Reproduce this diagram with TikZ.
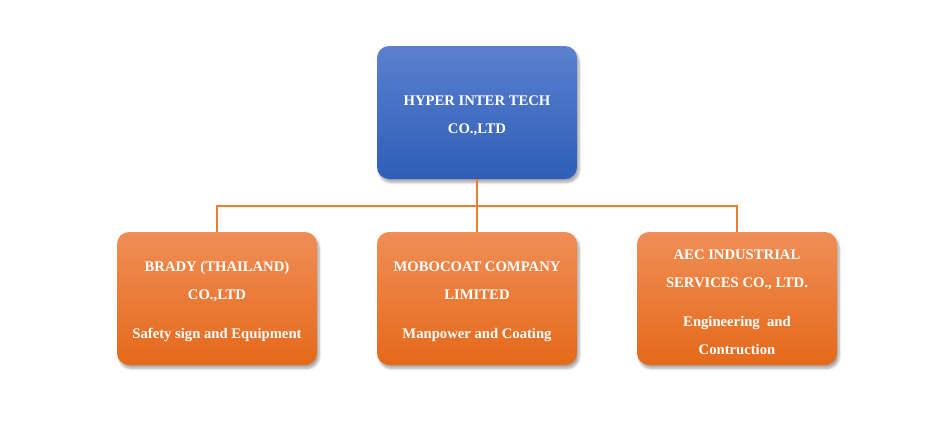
\documentclass[tikz,border=0pt]{standalone}
\usepackage{fontspec}
\setmainfont{Liberation Serif}
\usetikzlibrary{shadows.blur}
\definecolor{blueTop}{HTML}{5B80CF}
\definecolor{blueBot}{HTML}{2E5EB8}
\definecolor{orTop}{HTML}{F08E56}
\definecolor{orBot}{HTML}{E5691A}
\definecolor{lineOr}{HTML}{ED7D31}
\newcommand{\dropstrut}{\rule{0pt}{12.5pt}}
\begin{document}
\begin{tikzpicture}[x=0.75pt,y=-0.75pt,
  box/.style={rounded corners=9pt, minimum width=150pt, minimum height=99.75pt,
    inner sep=0pt, align=center, text=white,
    font=\fontsize{11pt}{21pt}\selectfont\bfseries,
    blur shadow={shadow xshift=1.5pt, shadow yshift=-2.5pt, shadow blur steps=6, shadow opacity=35}},
  topbox/.style={box, top color=blueTop, bottom color=blueBot},
  subbox/.style={box, top color=orTop, bottom color=orBot},
  conn/.style={draw=lineOr, line width=1.5pt}]
\useasboundingbox (0,0) rectangle (952,429);
\node[topbox] (top) at (477,112.5) {\dropstrut HYPER INTER TECH\\CO.,LTD};
\node[subbox] (brady) at (217,298.5) {\dropstrut BRADY (THAILAND)\\CO.,LTD\\[8.25pt]Safety sign and Equipment};
\node[subbox] (mobo) at (477,298.5) {\dropstrut MOBOCOAT COMPANY\\LIMITED\\[8.25pt]Manpower and Coating};
\node[subbox] (aec) at (737,298.5) {\dropstrut AEC INDUSTRIAL\\SERVICES CO., LTD.\\[8.25pt]Engineering~ and\\Contruction};
\coordinate (bus) at (477,206);
\draw[conn] (top.south) -- (bus);
\draw[conn] (bus) -| (brady.north);
\draw[conn] (bus) -| (aec.north);
\draw[conn] (bus) -- (mobo.north);
\end{tikzpicture}
\end{document}
